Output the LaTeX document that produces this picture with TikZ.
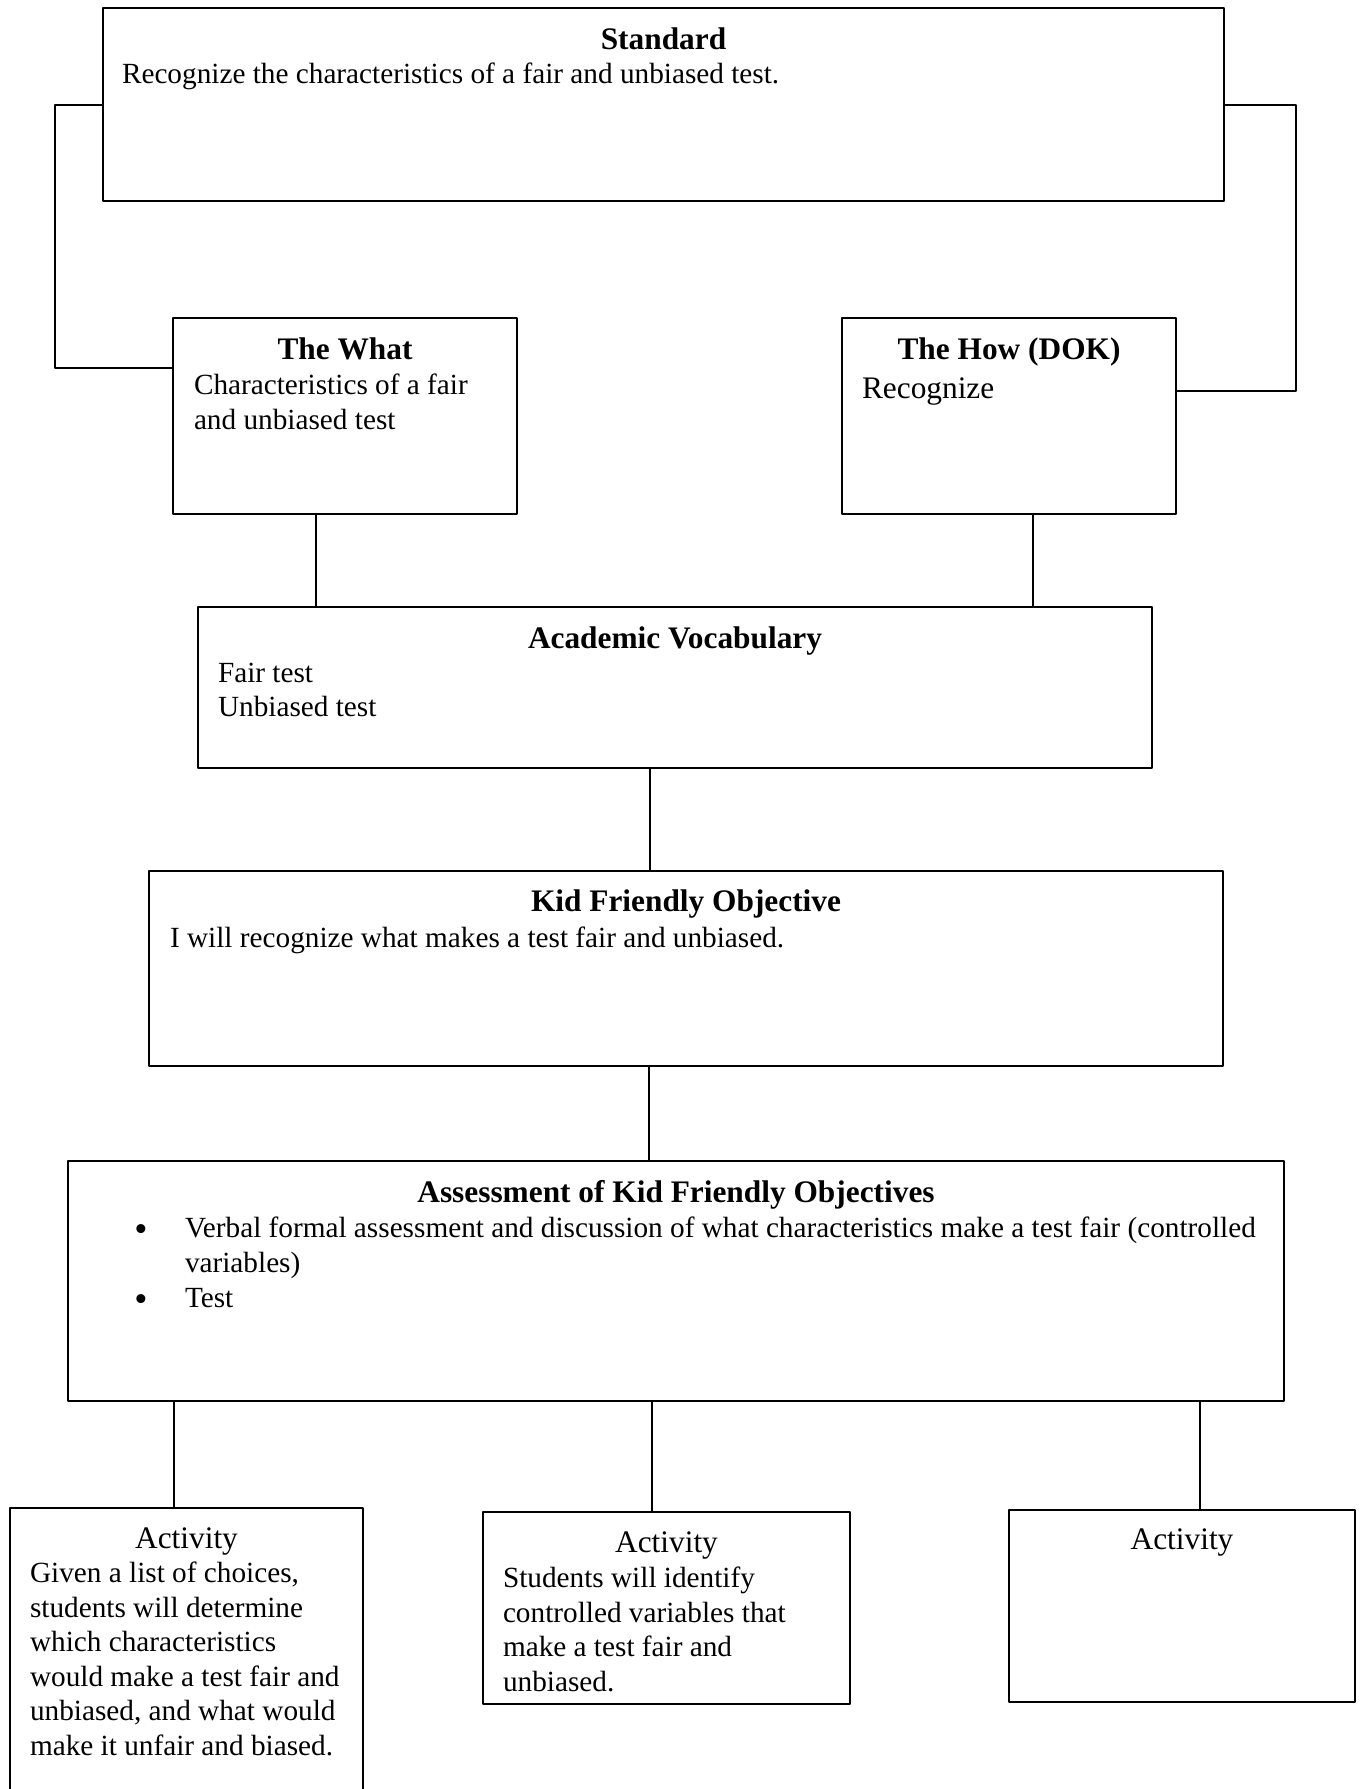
\documentclass[tikz,border=0pt]{standalone}
\usepackage{fontspec}
\setmainfont{Liberation Serif}
\newcommand{\pxu}{0.4785pt}
\begin{document}
\begin{tikzpicture}[x=0.4785pt, y=-0.4785pt, line cap=round, line join=round,
  every node/.style={font=\fontsize{14}{16.5}\selectfont, inner sep=0pt, outer sep=0pt},
  box/.style={draw, line width=0.9pt, anchor=north west},
  head/.style={font=\fontsize{15}{17}\selectfont\bfseries, anchor=mid},
  acthead/.style={font=\fontsize{15}{17}\selectfont, anchor=mid},
  body/.style={align=left, anchor=mid west},
  lines/.style={align=left, anchor=north west},
  dot/.style={font=\fontsize{18}{18}\selectfont, anchor=mid},
  link/.style={line width=0.7pt}]
  \useasboundingbox (0,0) rectangle (1363,1789);
  % boxes (north west corner, size in px)
  \node[box, minimum width=1121*\pxu, minimum height=193*\pxu] (std) at (103,8) {};
  \node[box, minimum width=344*\pxu, minimum height=196*\pxu] (what) at (173,318) {};
  \node[box, minimum width=334*\pxu, minimum height=196*\pxu] (how) at (842,318) {};
  \node[box, minimum width=954*\pxu, minimum height=161*\pxu] (vocab) at (198,607) {};
  \node[box, minimum width=1074*\pxu, minimum height=195*\pxu] (kfo) at (149,871) {};
  \node[box, minimum width=1216*\pxu, minimum height=240*\pxu] (assess) at (68,1161) {};
  \node[box, minimum width=353*\pxu, minimum height=320*\pxu] (act1) at (10,1508) {};
  \node[box, minimum width=367*\pxu, minimum height=192*\pxu] (act2) at (483,1512) {};
  \node[box, minimum width=346*\pxu, minimum height=192*\pxu] (act3) at (1009,1510) {};
  % texts
  \node[head] (stdhead) at (std.north |- 0,45) {Standard};
  \node[body] (stdtext) at (122,79) {Recognize the characteristics of a fair and unbiased test.};
  \node[head] (whathead) at (what.north |- 0,355) {The What};
  \node[lines] (whattext) at (194,374) {Characteristics of a fair\\and unbiased test};
  \node[head] (howhead) at (how.north |- 0,355) {The How (DOK)};
  \node[body, font=\fontsize{15}{17}\selectfont] (howtext) at (862,394) {Recognize};
  \node[head] (vocabhead) at (vocab.north |- 0,644) {Academic Vocabulary};
  \node[lines] (vocabtext) at (218,663) {Fair test\\Unbiased test};
  \node[head] (kfohead) at (kfo.north |- 0,907) {Kid Friendly Objective};
  \node[body] (kfotext) at (170,943) {I will recognize what makes a test fair and unbiased.};
  \node[head] (assesshead) at (assess.north |- 0,1198) {Assessment of Kid Friendly Objectives};
  \node[dot] (bul1) at (141,1237) {\textbullet};
  \node[lines] (assess1) at (185,1217) {Verbal formal assessment and discussion of what characteristics make a test fair (controlled\\variables)};
  \node[dot] (bul2) at (141,1307) {\textbullet};
  \node[body] (assess2) at (185,1303) {Test};
  \node[acthead] (act1head) at (act1.north |- 0,1544) {Activity};
  \node[lines] (act1text) at (30,1562) {Given a list of choices,\\students will determine\\which characteristics\\would make a test fair and\\unbiased, and what would\\make it unfair and biased.};
  \node[acthead] (act2head) at (act2.north |- 0,1548) {Activity};
  \node[lines] (act2text) at (503,1567) {Students will identify\\controlled variables that\\make a test fair and\\unbiased.};
  \node[acthead] (act3head) at (act3.north |- 0,1545) {Activity};
  % connectors
  \draw[link] (std.west |- 0,105) -- (55,105) |- (what.west |- 0,368);
  \draw[link] (std.east |- 0,105) -- (1296,105) |- (how.east |- 0,391);
  \draw[link] (what.south -| 316,0) -- (vocab.north -| 316,0);
  \draw[link] (how.south -| 1033,0) -- (vocab.north -| 1033,0);
  \draw[link] (vocab.south -| 650,0) -- (kfo.north -| 650,0);
  \draw[link] (kfo.south -| 649,0) -- (assess.north -| 649,0);
  \draw[link] (assess.south -| 174,0) -- (act1.north -| 174,0);
  \draw[link] (assess.south -| 652,0) -- (act2.north -| 652,0);
  \draw[link] (assess.south -| 1200,0) -- (act3.north -| 1200,0);
\end{tikzpicture}
\end{document}
